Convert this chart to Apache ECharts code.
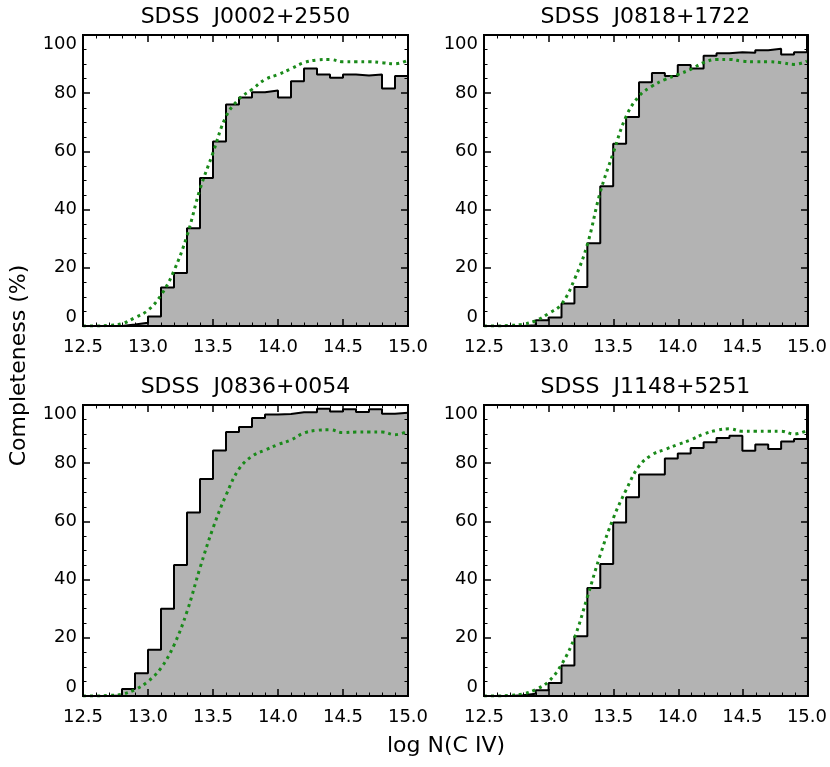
<!DOCTYPE html>
<html>
<head>
<meta charset="utf-8">
<script src="https://cdn.jsdelivr.net/npm/echarts@6/dist/echarts.min.js"></script>
<style>
html, body { margin: 0; padding: 0; background: #fff; }
#wrap { position: relative; width: 830px; height: 767px; }
#chart, #frame { position: absolute; left: 0; top: 0; width: 830px; height: 767px; }
</style>
</head>
<body>
<div id="wrap">
	<div id="chart"></div>
	<div id="frame"></div>
</div>
<script>
// bin edges of log N(C IV), 0.1 dex bins
const binEdges = [12.5, 12.6, 12.7, 12.8, 12.9, 13.0, 13.1, 13.2, 13.3, 13.4, 13.5, 13.6, 13.7,
	13.8, 13.9, 14.0, 14.1, 14.2, 14.3, 14.4, 14.5, 14.6, 14.7, 14.8, 14.9, 15.0];

const panelTitles = ['SDSS  J0002+2550', 'SDSS  J0818+1722', 'SDSS  J0836+0054', 'SDSS  J1148+5251'];

// histogram (one value per bin, 25 bins)
const histJ0002 = [0, 0, 0, 0.5, 1.1, 3.3, 13.2, 18.2, 33.6, 50.9, 63.4, 76.1, 78.5, 80.3, 80.9,
	78.5, 84.1, 88.5, 86.4, 85.3, 86.4, 86.1, 86.4, 81.6, 85.9];
const histJ0818 = [0, 0, 0, 0.3, 2, 2.9, 7.7, 13.4, 28.4, 48, 62.6, 71.8, 83.8, 86.9, 85.9,
	89.7, 88.5, 92.9, 93.7, 94.1, 93.9, 94.8, 95.3, 93.3, 94.1];
const histJ0836 = [0, 0, 0.2, 2.4, 7.8, 15.9, 30, 45, 63.1, 74.6, 84.4, 90.7, 92.4, 95.5, 96.7,
	96.9, 97.5, 97.5, 98.7, 97.8, 98.5, 97.6, 98.5, 97, 97.3];
const histJ1148 = [0, 0, 0.3, 0.8, 2, 4.5, 10.5, 20.5, 37.1, 45.4, 59.6, 68.3, 76.1, 76.1, 81.6,
	83.3, 85.2, 87.2, 88.7, 89.4, 84.3, 86.4, 84.9, 87.5, 88.3];

// green dotted curve (one value per bin edge, 26 points)
const curveJ0002 = [0, 0, 0.2, 0.8, 2.9, 5.4, 10.6, 19, 31, 47, 59.5, 72, 78, 81.3, 84.7,
	86.4, 88.4, 90.5, 91.4, 91.6, 90.8, 90.8, 90.8, 90.5, 90.1, 91.3];
const curveJ0818 = [0, 0, 0.2, 0.6, 1.8, 4.3, 7.5, 16, 28, 46, 59.4, 72, 79, 82.4, 84.7,
	86.4, 88.2, 90.5, 91.6, 91.6, 91, 90.8, 90.8, 90.5, 89.9, 91];
const curveJ0836 = [0, 0, 0.2, 0.6, 2.2, 5, 9.6, 17.5, 29, 44, 57.7, 69, 78, 82.4, 84.5,
	86.4, 88, 90.4, 91.3, 91.5, 90.5, 90.7, 90.7, 90.7, 89.8, 91];
const curveJ1148 = [0, 0, 0.2, 0.7, 2.2, 5, 10.8, 20, 34, 48.5, 61, 70.8, 79, 82.9, 84.7,
	86.4, 88, 90, 91.3, 91.8, 91, 91, 91, 91, 90, 91.2];

const hists = [histJ0002, histJ0818, histJ0836, histJ1148];
const curves = [curveJ0002, curveJ0818, curveJ0836, curveJ1148];

const panelRects = [
	{ left: 83, top: 35, width: 325, height: 291 },
	{ left: 484, top: 35, width: 324, height: 291 },
	{ left: 83, top: 405, width: 325, height: 291 },
	{ left: 484, top: 405, width: 324, height: 291 }
];

const FONT = 'DejaVu Sans';
const X_MIN = 12.5, X_MAX = 15.0, Y_MIN = 0, Y_MAX = 100;

// ---- chart 1: data, labels and titles ----
const grids = panelRects.concat([{ left: 83, top: 35, width: 725, height: 661 }]);

function frameAxis(extra) {
	return Object.assign({
		type: 'value',
		axisLine: { show: true, onZero: false, lineStyle: { color: '#000', width: 2 } },
		axisTick: { show: false },
		splitLine: { show: false }
	}, extra);
}

const xAxes = [];
const yAxes = [];
const series = [];

panelRects.forEach((r, i) => {
	xAxes.push(frameAxis({ gridIndex: i, min: X_MIN, max: X_MAX, interval: 0.5, position: 'bottom',
		axisLabel: { show: true, margin: 12, color: '#000', fontFamily: FONT, fontSize: 18,
			formatter: v => v.toFixed(1) } }));
	xAxes.push(frameAxis({ gridIndex: i, min: X_MIN, max: X_MAX, interval: 0.5, position: 'top',
		axisLabel: { show: false },
		name: panelTitles[i], nameLocation: 'middle', nameGap: 7,
		nameTextStyle: { color: '#000', fontFamily: FONT, fontSize: 22 } }));
	yAxes.push(frameAxis({ gridIndex: i, min: Y_MIN, max: Y_MAX, interval: 20, position: 'left',
		axisLabel: { show: true, margin: 6, color: '#000', fontFamily: FONT, fontSize: 18,
			verticalAlignMinLabel: 'bottom', verticalAlignMaxLabel: 'top' } }));
	yAxes.push(frameAxis({ gridIndex: i, min: Y_MIN, max: Y_MAX, interval: 20, position: 'right',
		axisLabel: { show: false } }));

	const h = hists[i];
	const histData = h.map((v, k) => [binEdges[k], v]);
	histData.push([binEdges[binEdges.length - 1], h[h.length - 1]]);
	series.push({
		type: 'line', xAxisIndex: 2 * i, yAxisIndex: 2 * i,
		step: 'end', symbol: 'none', data: histData, z: 2,
		lineStyle: { color: '#000', width: 2 },
		areaStyle: { color: '#b3b3b3', opacity: 1 }
	});
	series.push({
		type: 'line', xAxisIndex: 2 * i, yAxisIndex: 2 * i,
		smooth: 0.4, symbol: 'none', z: 3,
		data: curves[i].map((v, k) => [binEdges[k], v]),
		lineStyle: { color: '#1a8a1a', width: 3, type: [3, 4] }
	});
});

// shared axis titles
xAxes.push({ type: 'value', gridIndex: 4, min: 0, max: 1,
	axisLine: { show: false }, axisTick: { show: false }, axisLabel: { show: false }, splitLine: { show: false },
	name: 'log N(C IV)', nameLocation: 'middle', nameGap: 39,
	nameTextStyle: { color: '#000', fontFamily: FONT, fontSize: 22 } });
yAxes.push({ type: 'value', gridIndex: 4, min: 0, max: 1,
	axisLine: { show: false }, axisTick: { show: false }, axisLabel: { show: false }, splitLine: { show: false },
	name: 'Completeness (%)', nameLocation: 'middle', nameGap: 54, nameRotate: 90,
	nameTextStyle: { color: '#000', fontFamily: FONT, fontSize: 22 } });

const chart = echarts.init(document.getElementById('chart'));
chart.setOption({
	animation: false,
	grid: grids,
	xAxis: xAxes,
	yAxis: yAxes,
	series: series
});

// ---- chart 2: transparent overlay with the inside ticks on all four sides ----
function tickAxis(extra, split) {
	return Object.assign({
		type: 'value',
		axisLine: { show: true, onZero: false, lineStyle: { color: '#000', width: 2 } },
		axisTick: { show: true, inside: true, length: 7, lineStyle: { color: '#000', width: 1.5 } },
		minorTick: { show: true, splitNumber: split, length: 3.5 },
		axisLabel: { show: false },
		splitLine: { show: false }
	}, extra);
}
const tx = [], ty = [];
panelRects.forEach((r, i) => {
	tx.push(tickAxis({ gridIndex: i, min: X_MIN, max: X_MAX, interval: 0.5, position: 'bottom' }, 5));
	tx.push(tickAxis({ gridIndex: i, min: X_MIN, max: X_MAX, interval: 0.5, position: 'top' }, 5));
	ty.push(tickAxis({ gridIndex: i, min: Y_MIN, max: Y_MAX, interval: 20, position: 'left' }, 4));
	ty.push(tickAxis({ gridIndex: i, min: Y_MIN, max: Y_MAX, interval: 20, position: 'right' }, 4));
});
const frame = echarts.init(document.getElementById('frame'));
frame.setOption({
	animation: false,
	backgroundColor: 'transparent',
	grid: panelRects,
	xAxis: tx,
	yAxis: ty,
	series: []
});
</script>
</body>
</html>
